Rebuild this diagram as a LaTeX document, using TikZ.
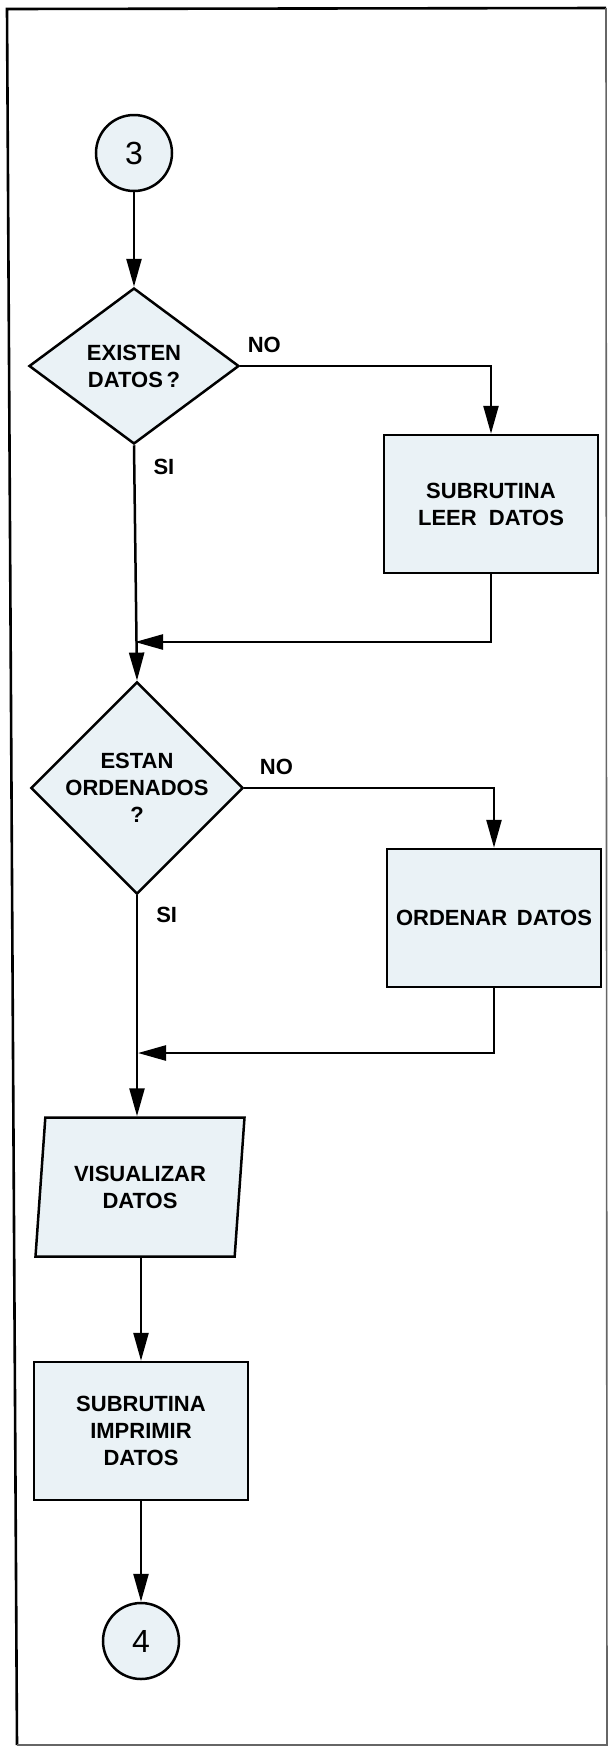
\documentclass[tikz,border=0pt]{standalone}
\usepackage{fontspec}
\setmainfont{Liberation Sans}
\usetikzlibrary{shapes.geometric}
\usetikzlibrary{arrows.meta}
\usetikzlibrary{positioning}

\definecolor{boxfill}{RGB}{234,242,246}

\begin{document}
\begin{tikzpicture}[x=0.5pt, y=-0.5pt, line width=1.25pt,
    every node/.style={font=\fontsize{11}{13.5}\selectfont\bfseries, align=center},
    conn/.style={circle, draw, fill=boxfill, minimum size=38pt, inner sep=0pt, font=\fontsize{16}{16}\selectfont},
    decision/.style={diamond, draw, fill=boxfill, inner sep=0pt, minimum width=105pt, minimum height=78pt},
    process/.style={rectangle, draw, fill=boxfill, minimum width=107pt, minimum height=69pt},
    io/.style={trapezium, trapezium left angle=77, trapezium right angle=103, trapezium stretches body, draw, fill=boxfill, minimum width=104.5pt, minimum height=69.5pt, inner sep=0pt},
    arr/.style={-{Triangle[length=14pt, width=7.5pt]}},
    lbl/.style={inner sep=0pt}]
        \useasboundingbox (0,0) rectangle (610,1751);

        % frame
        \draw[line width=1.3pt] (17,1745) -- (7,9) -- (606,8);
        \draw[line width=0.8pt, black!60] (606,8) -- (607,1745) -- (17,1745);

        \node[conn] (c3) at (134,153) {3};

        \node[decision] (d1) at (134,366) {EXISTEN\\DATOS\,?};

        \node[process] (b1) at (491,504) {SUBRUTINA\\LEER\ \ DATOS};

        \node[decision] (d2) at (137,788) {ESTAN\\ORDENADOS\\?};

        \node[process] (b2) at (494,918) {ORDENAR\ \,DATOS};

        \node[io] (vis) at (140,1187) {VISUALIZAR\\DATOS};

        \node[process] (b3) at (141,1431) {SUBRUTINA\\IMPRIMIR\\DATOS};

        \node[conn] (c4) at (141,1641) {4};

        \coordinate (m1) at (135,642);
        \coordinate (m2) at (138,1053);

        \draw[arr] (c3) -- (d1);
        \draw[arr] (d1.east) -| (b1.north) node[lbl, pos=0.048, above=6pt] (no1) {NO};
        \draw[arr] (d1.south) -- (d2.north) node[lbl, pos=0.09, right=9pt] (si1) {SI};
        \draw[arr] (b1.south) |- (m1);
        \draw[arr] (d2.east) -| (b2.north) node[lbl, pos=0.064, above=6pt] (no2) {NO};
        \draw[arr] (d2.south) -- (d2.south |- vis.north) node[lbl, pos=0.09, right=9pt] (si2) {SI};
        \draw[arr] (b2.south) |- (m2);
        \draw[arr] (b3.north |- vis.south) -- (b3.north);
        \draw[arr] (b3) -- (c4);
      \end{tikzpicture}
\end{document}
